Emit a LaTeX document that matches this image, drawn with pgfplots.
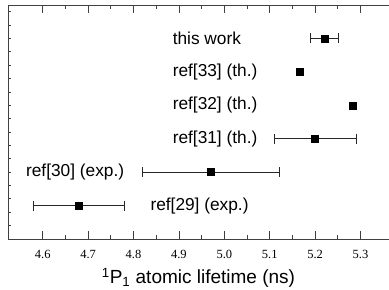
\documentclass[border=0pt]{standalone}
\usepackage{fontspec}
\setmainfont{Liberation Sans}
\newfontfamily\serifnum{Liberation Serif}
\usepackage{pgfplots}
\pgfplotsset{compat=1.18}
\begin{document}
\begin{tikzpicture}
\begin{axis}[
  scale only axis,
  width=381pt, height=234pt,
  xmin=4.5236, xmax=5.3627,
  ymin=0, ymax=7,
  axis y line*=left,
  y axis line style={-},
  axis line style={line width=0.8pt, black!75},
  xtick={4.6,4.7,...,5.31},
  minor x tick num=1,
  major tick length=8pt,
  minor tick length=4pt,
  tick style={line width=0.8pt, black!75},
  ytick=\empty,
  xticklabel style={font=\serifnum\fontsize{12.5}{14}\selectfont, yshift=-8pt},
  /pgf/number format/assume math mode=true,
  /pgf/number format/fixed, /pgf/number format/fixed zerofill, /pgf/number format/precision=1,
  xlabel={\textsuperscript{1}P\textsubscript{1} atomic lifetime (ns)},
  xlabel style={font=\fontsize{19}{22}\selectfont, at={(axis description cs:0.5,0)}, anchor=center, yshift=-39pt},
  clip=false,
]
\addplot[only marks, mark=square*, mark size=3.5pt, black,
  error bars/.cd, x dir=both, x explicit,
  error bar style={line width=0.6pt, black!85},
  error mark options={rotate=90, mark size=5pt, line width=0.6pt, black!85}]
  table[x=x, y=y, x error=ex] {
x y ex
5.22 6 0.03
5.20 3 0.09
4.97 2 0.15
4.68 1 0.10
};
\addplot[only marks, mark=square*, mark size=3.5pt, black]
  table {
x y
5.165 5
5.283 4
};
\begin{scope}[every node/.style={anchor=west, inner sep=0pt, font=\fontsize{17.3}{20}\selectfont}]
\node at (axis cs:4.886,6) {this work};
\node at (axis cs:4.886,5) {ref[33] (th.)};
\node at (axis cs:4.886,4) {ref[32] (th.)};
\node at (axis cs:4.886,3) {ref[31] (th.)};
\node at (axis cs:4.563,2) {ref[30] (exp.)};
\node at (axis cs:4.837,1) {ref[29] (exp.)};
\end{scope}
\end{axis}
\begin{axis}[
  scale only axis,
  width=381pt, height=234pt,
  xmin=4.5236, xmax=5.3627,
  ymin=0, ymax=7,
  axis x line=none,
  axis y line*=left,
  y axis line style={draw=none},
  ytick={0.4,0.8,...,6.81},
  yticklabels={},
  major tick length=2.5pt,
  tick style={line width=0.8pt, black!75},
]
\end{axis}
\pgfresetboundingbox
\path (current axis.south west) ++(-8pt,-51pt) coordinate (bl);
\path (current axis.north east) ++(0pt,5pt) coordinate (tr);
\path (bl) rectangle (tr);
\end{tikzpicture}
\end{document}
